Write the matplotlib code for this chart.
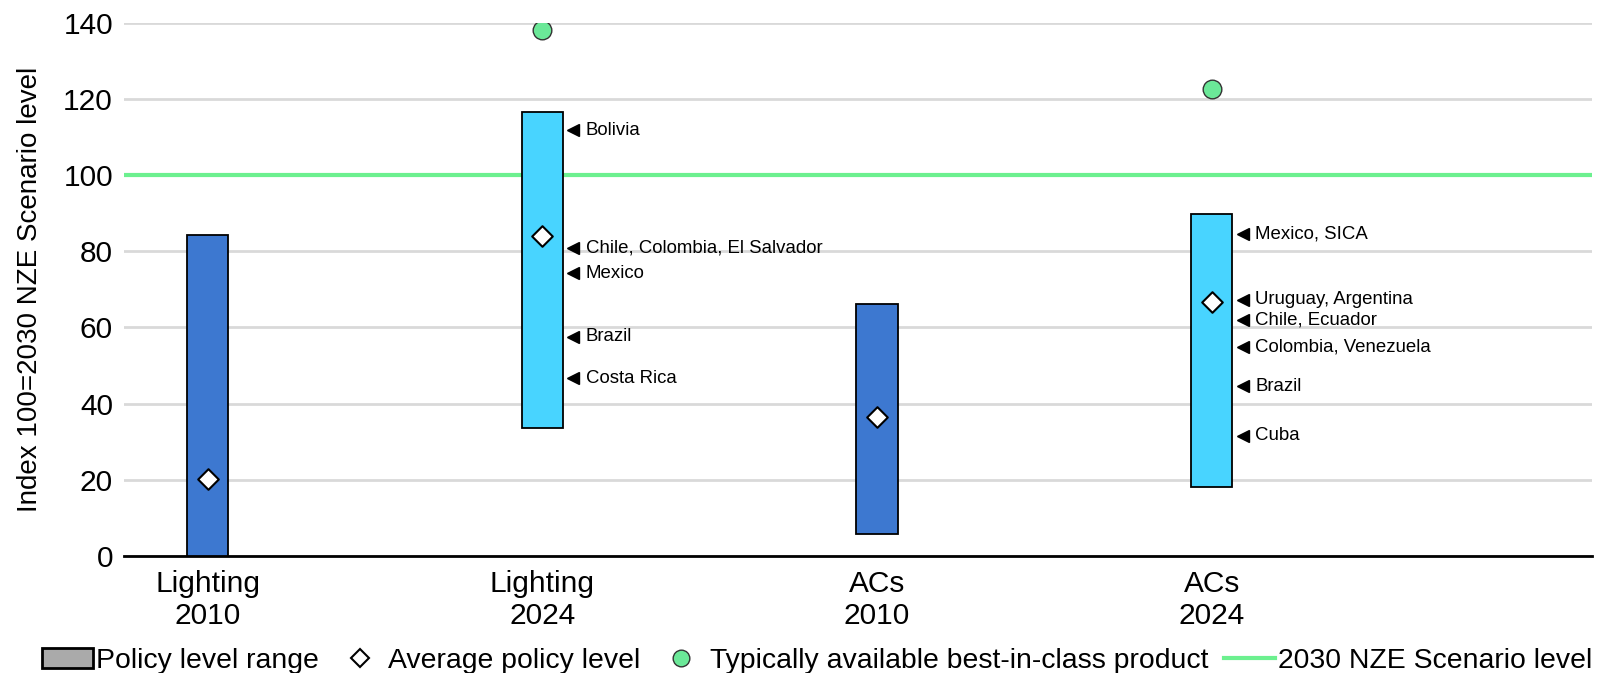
import matplotlib
matplotlib.use("Agg")
import matplotlib.pyplot as plt
from matplotlib.patches import Patch
from matplotlib.lines import Line2D

plt.rcParams['font.family'] = ['Liberation Sans', 'DejaVu Sans']

categories = ["Lighting\n2010", "Lighting\n2024", "ACs\n2010", "ACs\n2024"]
range_low = [0, 33.6, 5.7, 18.2]
range_high = [84.4, 116.7, 66.2, 89.8]
average = [20.3, 84.1, 36.6, 66.7]
best_x = [1, 3]
best_vals = [138.1, 122.6]
nze_level = 100
bar_colors = ["#3D78D0", "#48D4FF", "#3D78D0", "#48D4FF"]

light_labels = ["Bolivia", "Chile, Colombia, El Salvador", "Mexico", "Brazil", "Costa Rica"]
light_vals = [111.8, 80.8, 74.3, 57.5, 46.7]
ac_labels = ["Mexico, SICA", "Uruguay, Argentina", "Chile, Ecuador", "Colombia, Venezuela", "Brazil", "Cuba"]
ac_vals = [84.6, 67.3, 61.9, 54.8, 44.5, 31.5]

fig = plt.figure(figsize=(16.21, 6.73), dpi=100)
ax = fig.add_axes([0.0765, 0.174, 0.9055, 0.792])

x = list(range(len(categories)))
heights = [h - l for h, l in zip(range_high, range_low)]
ax.bar(x, heights, bottom=range_low, width=0.123, color=bar_colors,
       edgecolor="black", linewidth=1.3, zorder=3)
ax.axhline(nze_level, color="#6CF08F", linewidth=3, zorder=2)
ax.scatter(x, average, marker="D", s=110, facecolor="white", edgecolor="black",
           linewidth=1.5, zorder=5)
ax.scatter(best_x, best_vals, marker="o", s=180, facecolor="#6BE898", edgecolor="#333333",
           linewidth=1.0, zorder=5)

for xi, labels, vals in [(1, light_labels, light_vals), (3, ac_labels, ac_vals)]:
    for lab, v in zip(labels, vals):
        ax.plot([xi + 0.093], [v], marker="<", color="black", markersize=9, zorder=5)
        ax.text(xi + 0.13, v, lab, fontsize=13.4, va="center", ha="left", zorder=6)

ax.set_xlim(-0.25, 4.136)
ax.set_ylim(0, 140)
ax.set_yticks(range(0, 141, 20))
ax.set_xticks(x)
ax.set_xticklabels(categories, fontsize=21.5, linespacing=1.2)
ax.tick_params(axis="y", labelsize=21.5, length=0, pad=8)
ax.tick_params(axis="x", length=0, pad=10)
ax.grid(axis="y", color="#D9D9D9", linewidth=2, zorder=0)
for s in ["top", "right", "left"]:
    ax.spines[s].set_visible(False)
ax.spines["bottom"].set_linewidth(2)
ax.set_ylabel("Index 100=2030 NZE Scenario level", fontsize=20)
ax.yaxis.set_label_coords(-0.055, 0.5)

handles = [
    Patch(facecolor="#AAAAAA", edgecolor="black", linewidth=2, label="Policy level range"),
    Line2D([], [], marker="D", linestyle="none", markerfacecolor="white", markeredgecolor="black",
           markersize=9, markeredgewidth=1.5, label="Average policy level"),
    Line2D([], [], marker="o", linestyle="none", markerfacecolor="#6BE898", markeredgecolor="#333333",
           markersize=12, label="Typically available best-in-class product"),
    Line2D([], [], color="#6CF08F", linewidth=3, label="2030 NZE Scenario level"),
]
fig.legend(handles=handles, loc="center", bbox_to_anchor=(0.504, 0.018), ncol=4,
           frameon=False, fontsize=20.4, handlelength=1.8, handletextpad=0.1, columnspacing=0.55)

fig.savefig("out.png", dpi=100)
